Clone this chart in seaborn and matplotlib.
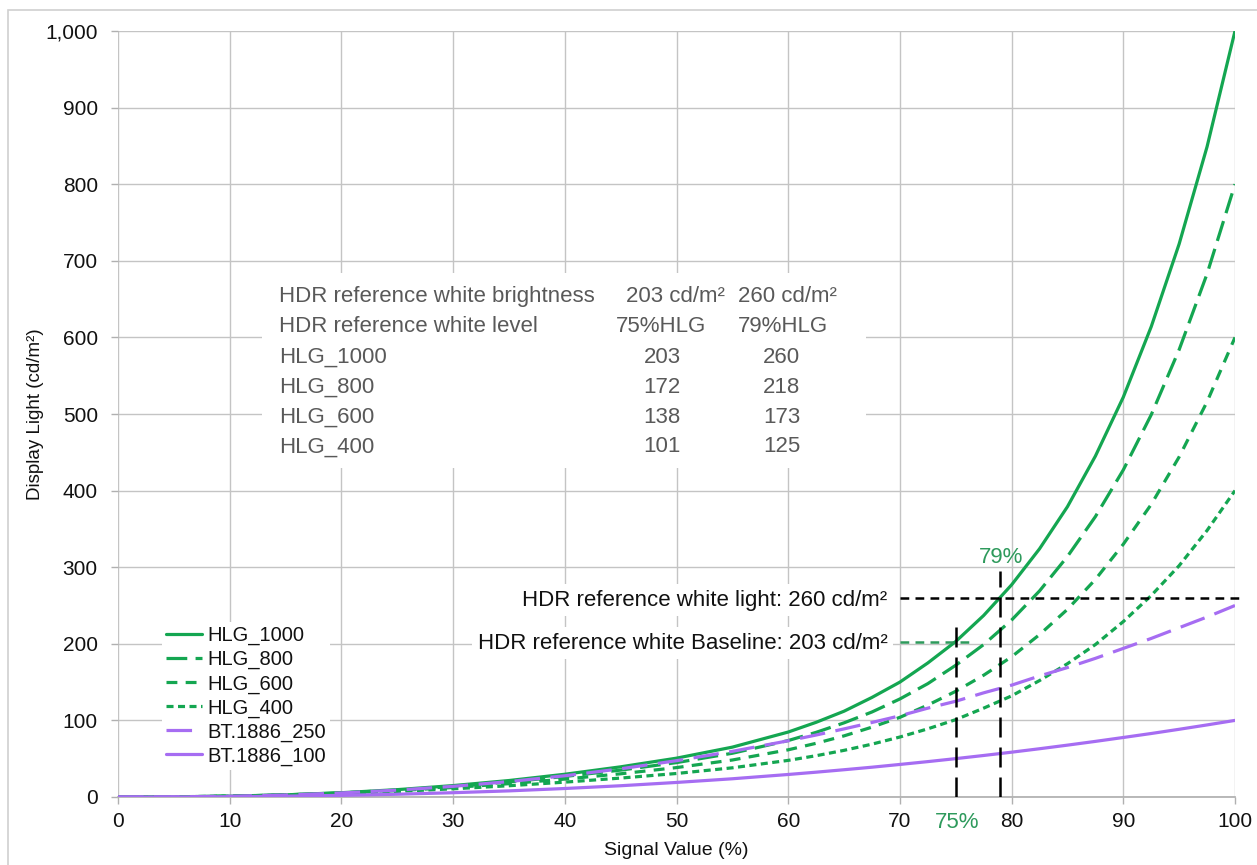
import pandas as pd
import matplotlib.pyplot as plt
from matplotlib.patches import Rectangle
import seaborn as sns

# signal level (%) and display light (cd/m2)
signal = [0, 5, 10, 15, 20, 25, 30, 35, 40, 45, 50, 55, 60, 62.5, 65, 67.5, 70, 72.5, 75, 77.5, 80,
          82.5, 85, 87.5, 90, 92.5, 95, 97.5, 100]
hlg_1000 = [0, 0.2, 1.1, 2.8, 5.6, 9.6, 14.9, 21.5, 29.7, 39.4, 50.7, 65.1, 84.8, 97.5, 112, 130, 150, 175,
            203, 237, 277, 324, 379, 445, 522, 614, 722, 849, 1000]
hlg_800 = [0, 0.2, 1.1, 2.8, 5.4, 9.0, 13.7, 19.6, 26.8, 35.1, 44.9, 57.1, 73.7, 84.4, 96.8, 111, 128, 148,
           172, 199, 231, 269, 314, 366, 427, 499, 584, 683, 800]
hlg_600 = [0, 0.2, 1.1, 2.7, 5.0, 8.3, 12.4, 17.4, 23.4, 30.3, 38.4, 48.3, 61.6, 70.1, 79.8, 91.2, 104, 120,
           138, 159, 183, 212, 245, 284, 330, 382, 444, 516, 600]
hlg_400 = [0, 0.3, 1.1, 2.6, 4.6, 7.3, 10.7, 14.7, 19.4, 24.7, 30.7, 38.1, 47.8, 53.9, 60.9, 69.0, 78.3, 89.0,
           101, 116, 132, 152, 174, 199, 229, 263, 302, 348, 400]
bt_250 = [0, 0.2, 1.0, 2.6, 5.3, 9.0, 13.9, 20.1, 27.7, 36.8, 47.4, 59.6, 73.4, 80.9, 88.9, 97.3, 106, 116,
          125, 136, 146, 158, 169, 181, 194, 207, 221, 235, 250]
bt_100 = [0, 0.1, 0.4, 1.1, 2.1, 3.6, 5.6, 8.0, 11.1, 14.7, 19.0, 23.8, 29.4, 32.4, 35.6, 38.9, 42.5, 46.2,
          50.1, 54.2, 58.5, 63.0, 67.7, 72.6, 77.7, 82.9, 88.4, 94.1, 100]

curve_names = ["HLG_1000", "HLG_800", "HLG_600", "HLG_400", "BT.1886_250", "BT.1886_100"]
curve_values = [hlg_1000, hlg_800, hlg_600, hlg_400, bt_250, bt_100]

# lookup table shown in the plot
table_header = ["HDR reference white brightness", "203 cd/m²", "260 cd/m²"]
table_level = ["HDR reference white level", "75%HLG", "79%HLG"]
table_names = ["HLG_1000", "HLG_800", "HLG_600", "HLG_400"]
table_75 = [203, 172, 138, 101]
table_79 = [260, 218, 173, 125]

ref_signal = [75, 79]
ref_light = [203, 260]

green = "#14A651"
purple = "#A66DF2"
palette = {"HLG_1000": green, "HLG_800": green, "HLG_600": green, "HLG_400": green,
           "BT.1886_250": purple, "BT.1886_100": purple}
dashes = {"HLG_1000": "", "HLG_800": (6.5, 2.6), "HLG_600": (3.4, 2.6), "HLG_400": (2.2, 1.4),
          "BT.1886_250": (8, 3.3), "BT.1886_100": ""}

df = pd.concat(
    [pd.DataFrame({"signal": signal, "light": vals, "curve": name}) for name, vals in zip(curve_names, curve_values)],
    ignore_index=True,
)

sns.set_theme(style="whitegrid")
plt.rcParams["font.family"] = ["Liberation Sans", "DejaVu Sans"]

fig = plt.figure(figsize=(12.57, 8.65), dpi=100)
ax = fig.add_axes([118 / 1257, 1 - 797 / 865, (1235 - 118) / 1257, (797 - 31) / 865])

sns.lineplot(data=df, x="signal", y="light", hue="curve", style="curve", hue_order=curve_names,
             style_order=curve_names, palette=palette, dashes=dashes, linewidth=2.3, ax=ax, zorder=3)

ax.set_xlim(0, 100)
ax.set_ylim(0, 1000)
ax.set_xticks(range(0, 101, 10))
ax.set_yticks(range(0, 1001, 100))
ax.set_yticklabels([f"{v:,}" for v in range(0, 1001, 100)])
ax.grid(True, color="#C4C4C4", linewidth=1.0)
for s in ax.spines.values():
    s.set_visible(False)
ax.spines["bottom"].set_visible(True)
ax.spines["bottom"].set_color("#B0B0B0")
ax.tick_params(axis="both", labelsize=15, colors="#B0B0B0", labelcolor="#111111", length=5, width=1,
               left=True, bottom=True)
ax.tick_params(axis="y", pad=9.5)
ax.tick_params(axis="x", pad=6)
ax.set_xlabel("Signal Value (%)", fontsize=14, color="#111111", labelpad=8)
ax.set_ylabel("Display Light (cd/m²)", fontsize=13.5, color="#111111", labelpad=1)

# white panel holding the table
ax.add_patch(Rectangle((12.9, 430), 54.1, 254, facecolor="white", edgecolor="none", zorder=1))
text_color = "#595959"
fs = 16
rows_y = [653, 614, 574, 535, 496, 457]
ax.text(14.4, rows_y[0], table_header[0], fontsize=fs, color=text_color, va="center", zorder=2)
ax.text(49.9, rows_y[0], table_header[1], fontsize=fs, color=text_color, va="center", ha="center", zorder=2)
ax.text(59.9, rows_y[0], table_header[2], fontsize=fs, color=text_color, va="center", ha="center", zorder=2)
ax.text(14.4, rows_y[1], table_level[0], fontsize=fs, color=text_color, va="center", zorder=2)
ax.text(48.6, rows_y[1], table_level[1], fontsize=fs, color=text_color, va="center", ha="center", zorder=2)
ax.text(59.5, rows_y[1], table_level[2], fontsize=fs, color=text_color, va="center", ha="center", zorder=2)
for y, name, v75, v79 in zip(rows_y[2:], table_names, table_75, table_79):
    ax.text(14.4, y, name, fontsize=fs, color=text_color, va="center", zorder=2)
    ax.text(48.7, y, str(v75), fontsize=fs, color=text_color, va="center", ha="center", zorder=2)
    ax.text(59.4, y, str(v79), fontsize=fs, color=text_color, va="center", ha="center", zorder=2)

# reference white markers
ax.plot([70, 100.9], [ref_light[1], ref_light[1]], color="black", linewidth=1.8, dashes=(3.5, 2.5),
        clip_on=False, zorder=4)
ax.plot([70, 76.5], [ref_light[0], ref_light[0]], color="#2E9A5C", linewidth=1.8, dashes=(3.5, 2.5), zorder=4)
ax.plot([ref_signal[0], ref_signal[0]], [0, 235], color="black", linewidth=1.8, dashes=(8, 4), zorder=4)
ax.plot([ref_signal[1], ref_signal[1]], [0, 295], color="black", linewidth=1.8, dashes=(8, 4), zorder=4)

box = dict(facecolor="white", edgecolor="none", pad=4)
ax.text(68.9, 257, "HDR reference white light: 260 cd/m²", fontsize=fs, color="#111111", ha="right",
        va="center", bbox=box, zorder=5)
ax.text(68.9, 201, "HDR reference white Baseline: 203 cd/m²", fontsize=fs, color="#111111", ha="right",
        va="center", bbox=box, zorder=5)
ax.text(79.1, 313, "79%", fontsize=fs, color="#2E9A5C", ha="center", va="center", zorder=5)
ax.text(75.1, -33, "75%", fontsize=fs, color="#2E9A5C", ha="center", va="center", clip_on=False)

handles, labels = ax.get_legend_handles_labels()
leg = ax.legend(handles, labels, loc="upper left", bbox_to_anchor=(152 / 1257, 1 - 612 / 865),
                bbox_transform=fig.transFigure, fontsize=14.5, handlelength=1.8, handletextpad=0.25,
                labelspacing=0.24, borderpad=0.2, frameon=True, facecolor="white", edgecolor="none",
                framealpha=1)
for t in leg.get_texts():
    t.set_color("#111111")

# outer chart border
fig.add_artist(Rectangle((8 / 1257, -0.05), 1.1, 1.05 - 10 / 865, transform=fig.transFigure,
                         fill=False, edgecolor="#D0D0D0", linewidth=1.2))

fig.savefig("out.png", dpi=100, facecolor="white")
